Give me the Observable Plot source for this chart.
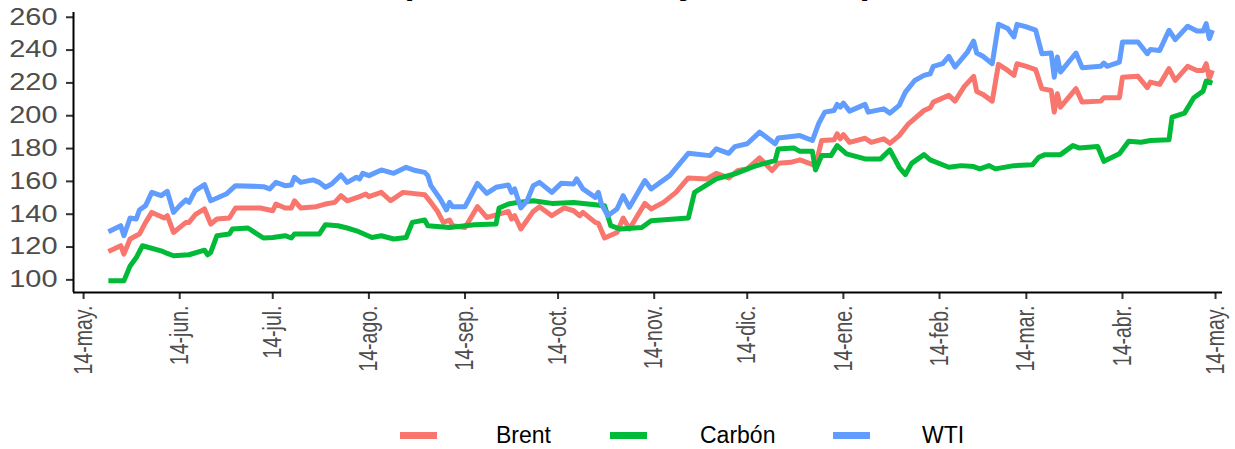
<!DOCTYPE html>
<html><head><meta charset="utf-8">
<script src="https://cdn.jsdelivr.net/npm/d3@7"></script>
<script src="https://cdn.jsdelivr.net/npm/@observablehq/plot@0.6"></script>
<style>
html,body{margin:0;padding:0;background:#fff;overflow:hidden;}
#wrap{position:relative;width:1235px;height:449px;overflow:hidden;}
#title{position:absolute;top:-33px;left:637px;white-space:nowrap;font-family:"Liberation Sans",Arial,sans-serif;font-weight:bold;font-size:32px;line-height:32px;color:#000;transform:translateX(-50%) scaleX(1.12);}
#chart{position:absolute;top:0;left:0;}
#legend{position:absolute;top:400px;left:0;width:1235px;height:49px;font-family:"Liberation Sans",Arial,sans-serif;}
.key{position:absolute;top:32px;width:37px;height:7px;}
.lab{position:absolute;top:23px;font-size:23px;line-height:24px;color:#000;}
</style></head>
<body>
<div id="wrap">
  <div id="chart"></div>
  <div id="title">(Índice 100 = mayo de 2021)</div>
  <div id="legend"></div>
</div>
<script>
const seriesNames = ["Brent", "Carbón", "WTI"];
const seriesColors = ["#F8766D", "#00BA38", "#619CFF"];

const xTickDates = ["2021-05-14","2021-06-14","2021-07-14","2021-08-14","2021-09-14","2021-10-14","2021-11-14","2021-12-14","2022-01-14","2022-02-14","2022-03-14","2022-04-14","2022-05-14"];
const xTickLabels = ["14-may.","14-jun.","14-jul.","14-ago.","14-sep.","14-oct.","14-nov.","14-dic.","14-ene.","14-feb.","14-mar.","14-abr.","14-may."];
const yTicks = [100,120,140,160,180,200,220,240,260];

const wtiDates = ["2021-05-22","2021-05-26","2021-05-27","2021-05-29","2021-05-31","2021-06-01","2021-06-03","2021-06-05","2021-06-08","2021-06-10","2021-06-12","2021-06-14","2021-06-16","2021-06-17","2021-06-19","2021-06-22","2021-06-24","2021-06-29","2021-07-02","2021-07-11","2021-07-13","2021-07-15","2021-07-18","2021-07-20","2021-07-21","2021-07-23","2021-07-27","2021-07-29","2021-07-31","2021-08-02","2021-08-05","2021-08-07","2021-08-10","2021-08-11","2021-08-12","2021-08-14","2021-08-18","2021-08-22","2021-08-26","2021-08-29","2021-09-01","2021-09-02","2021-09-03","2021-09-06","2021-09-08","2021-09-09","2021-09-10","2021-09-14","2021-09-18","2021-09-21","2021-09-24","2021-09-28","2021-09-29","2021-09-30","2021-10-02","2021-10-04","2021-10-06","2021-10-08","2021-10-12","2021-10-15","2021-10-19","2021-10-20","2021-10-22","2021-10-26","2021-10-27","2021-10-28","2021-10-30","2021-11-02","2021-11-04","2021-11-06","2021-11-11","2021-11-13","2021-11-19","2021-11-25","2021-12-02","2021-12-04","2021-12-08","2021-12-10","2021-12-14","2021-12-18","2021-12-23","2021-12-24","2021-12-31","2022-01-04","2022-01-06","2022-01-08","2022-01-11","2022-01-12","2022-01-13","2022-01-14","2022-01-16","2022-01-21","2022-01-22","2022-01-27","2022-01-29","2022-02-01","2022-02-03","2022-02-06","2022-02-09","2022-02-11","2022-02-12","2022-02-15","2022-02-17","2022-02-19","2022-02-23","2022-02-25","2022-02-26","2022-02-28","2022-03-03","2022-03-05","2022-03-08","2022-03-10","2022-03-11","2022-03-14","2022-03-17","2022-03-19","2022-03-22","2022-03-23","2022-03-24","2022-03-25","2022-03-30","2022-04-01","2022-04-07","2022-04-08","2022-04-09","2022-04-13","2022-04-14","2022-04-19","2022-04-22","2022-04-23","2022-04-26","2022-04-29","2022-05-01","2022-05-05","2022-05-08","2022-05-10","2022-05-11","2022-05-12","2022-05-13"];
const wtiValues = [129.3,133.0,126.9,137.7,137.1,142.6,145.2,153.3,151.3,153.9,141.1,145.2,148.7,147.2,154.4,158.0,148.2,152.3,157.4,156.8,155.4,159.4,157.4,157.8,162.5,159.4,160.9,159.4,156.4,158.4,163.9,159.4,162.5,161.5,164.9,163.5,167.0,164.9,168.6,166.6,165.5,163.5,157.4,149.3,142.6,147.2,144.6,144.6,158.8,152.7,156.4,157.8,153.3,155.4,143.8,148.2,157.4,159.4,153.3,158.8,158.4,161.5,155.4,150.3,153.3,146.2,139.1,143.2,151.3,144.2,160.5,155.4,163.5,177.1,175.7,179.8,177.1,181.2,182.9,190.0,182.9,186.5,187.9,184.9,195.1,202.2,203.2,206.9,205.2,207.7,202.8,206.9,202.2,204.2,201.6,206.3,214.4,221.5,224.6,225.6,230.1,231.7,236.2,229.7,238.8,245.5,238.2,236.2,231.7,255.7,253.1,248.0,255.7,254.1,252.1,237.8,238.2,223.5,235.8,226.6,238.2,229.3,230.1,232.1,230.1,232.7,244.9,244.9,237.8,240.3,239.8,252.1,246.4,254.5,251.6,251.6,256.1,247.0,252.1];

const brentDates = ["2021-05-22","2021-05-26","2021-05-27","2021-05-29","2021-06-01","2021-06-03","2021-06-05","2021-06-09","2021-06-10","2021-06-12","2021-06-16","2021-06-17","2021-06-19","2021-06-22","2021-06-24","2021-06-26","2021-06-30","2021-07-02","2021-07-10","2021-07-14","2021-07-15","2021-07-18","2021-07-20","2021-07-21","2021-07-23","2021-07-28","2021-07-31","2021-08-03","2021-08-05","2021-08-07","2021-08-11","2021-08-13","2021-08-14","2021-08-18","2021-08-21","2021-08-25","2021-09-01","2021-09-03","2021-09-05","2021-09-07","2021-09-09","2021-09-10","2021-09-14","2021-09-18","2021-09-21","2021-09-25","2021-09-28","2021-09-29","2021-09-30","2021-10-02","2021-10-06","2021-10-08","2021-10-12","2021-10-16","2021-10-19","2021-10-21","2021-10-22","2021-10-26","2021-10-27","2021-10-29","2021-11-02","2021-11-04","2021-11-06","2021-11-11","2021-11-13","2021-11-17","2021-11-21","2021-11-25","2021-12-01","2021-12-04","2021-12-08","2021-12-11","2021-12-14","2021-12-18","2021-12-22","2021-12-24","2021-12-28","2021-12-31","2022-01-05","2022-01-07","2022-01-11","2022-01-12","2022-01-13","2022-01-14","2022-01-16","2022-01-21","2022-01-23","2022-01-27","2022-01-29","2022-02-01","2022-02-04","2022-02-09","2022-02-11","2022-02-12","2022-02-17","2022-02-19","2022-02-22","2022-02-25","2022-02-26","2022-02-28","2022-03-03","2022-03-05","2022-03-08","2022-03-10","2022-03-11","2022-03-14","2022-03-17","2022-03-19","2022-03-22","2022-03-23","2022-03-24","2022-03-25","2022-03-30","2022-04-01","2022-04-07","2022-04-08","2022-04-13","2022-04-14","2022-04-19","2022-04-22","2022-04-23","2022-04-26","2022-04-29","2022-05-01","2022-05-05","2022-05-08","2022-05-10","2022-05-11","2022-05-12","2022-05-13"];
const brentValues = [117.3,120.8,115.7,124.9,127.9,135.0,141.1,137.7,139.1,128.9,135.0,135.0,139.7,143.2,134.0,137.1,137.7,143.8,143.8,142.1,146.2,143.8,143.8,148.2,143.8,144.6,146.2,147.2,151.3,148.2,150.7,152.3,150.7,153.3,148.2,153.3,151.9,147.2,142.1,135.0,136.5,133.0,131.9,144.6,138.0,140.1,141.7,137.1,139.1,131.0,141.7,144.6,139.1,143.8,142.1,139.1,141.1,135.0,134.4,125.5,128.9,137.7,131.0,146.6,143.2,147.2,153.3,162.1,161.5,164.9,162.1,166.6,167.6,174.3,166.6,171.0,171.6,173.1,169.6,184.9,185.3,189.0,185.9,188.5,183.8,186.3,183.8,185.9,183.2,187.9,195.1,203.2,204.9,208.3,212.4,208.9,217.9,224.0,214.8,213.0,208.9,231.3,227.6,224.6,231.7,230.1,228.1,216.5,215.4,202.2,213.4,205.2,216.5,208.3,208.9,211.0,211.0,223.5,224.0,217.1,220.5,219.1,228.7,221.5,230.1,227.6,227.6,231.7,222.6,227.6];

const carbonDates = ["2021-05-22","2021-05-27","2021-05-29","2021-05-31","2021-06-02","2021-06-08","2021-06-10","2021-06-12","2021-06-17","2021-06-22","2021-06-23","2021-06-24","2021-06-26","2021-06-30","2021-07-01","2021-07-06","2021-07-11","2021-07-14","2021-07-18","2021-07-20","2021-07-21","2021-07-29","2021-07-31","2021-08-04","2021-08-07","2021-08-10","2021-08-15","2021-08-18","2021-08-22","2021-08-26","2021-08-28","2021-09-01","2021-09-02","2021-09-09","2021-09-17","2021-09-24","2021-09-25","2021-09-28","2021-10-01","2021-10-06","2021-10-12","2021-10-19","2021-10-29","2021-10-31","2021-11-03","2021-11-10","2021-11-13","2021-11-25","2021-11-27","2021-11-30","2021-12-04","2021-12-10","2021-12-16","2021-12-19","2021-12-23","2021-12-24","2021-12-29","2021-12-31","2022-01-04","2022-01-05","2022-01-07","2022-01-10","2022-01-12","2022-01-15","2022-01-21","2022-01-26","2022-01-29","2022-02-01","2022-02-03","2022-02-05","2022-02-09","2022-02-11","2022-02-17","2022-02-21","2022-02-25","2022-02-27","2022-03-02","2022-03-04","2022-03-10","2022-03-16","2022-03-18","2022-03-20","2022-03-25","2022-03-29","2022-03-31","2022-04-06","2022-04-08","2022-04-13","2022-04-16","2022-04-20","2022-04-23","2022-04-29","2022-04-30","2022-05-04","2022-05-07","2022-05-10","2022-05-11","2022-05-13"];
const carbonValues = [99.4,99.4,108.5,113.6,120.8,117.7,116.1,114.7,115.3,118.1,115.3,116.7,126.9,127.9,131.0,131.6,125.5,125.8,126.9,125.5,127.9,127.9,133.6,133.0,131.6,129.9,125.8,126.9,124.9,125.8,135.0,136.5,133.0,131.9,133.6,134.0,143.8,146.2,147.2,148.2,146.6,147.2,145.2,133.0,131.0,131.9,136.0,137.7,153.3,156.8,161.5,164.6,169.0,170.7,172.7,179.8,180.4,178.3,178.3,167.0,175.7,175.7,181.8,176.8,173.7,173.7,179.2,168.6,164.1,171.0,176.3,173.1,168.6,169.6,169.0,167.6,169.6,167.6,169.6,170.2,174.7,176.3,176.3,181.8,180.4,181.2,172.2,176.8,184.5,183.8,184.9,185.3,199.1,201.6,211.0,215.0,221.1,219.9];

const parse = d3.utcParse("%Y-%m-%d");
const table = [];
const add = (name, dates, values) => dates.forEach((d, i) => table.push({series: name, date: parse(d), value: values[i]}));
add("Brent", brentDates, brentValues);
add("Carbón", carbonDates, carbonValues);
add("WTI", wtiDates, wtiValues);

const xDomain = [new Date(Date.UTC(2021, 4, 10, 18)), new Date(Date.UTC(2022, 4, 16, 6))];
const yDomain = [92.3, 262.9];
const xTicks = xTickDates.map(parse);
const labelOf = new Map(xTicks.map((d, i) => [+d, xTickLabels[i]]));

const chart = Plot.plot({
  width: 1235,
  height: 400,
  marginLeft: 73,
  marginRight: 13,
  marginTop: 12,
  marginBottom: 108,
  style: {fontFamily: "'Liberation Sans', Arial, sans-serif", background: "#fff"},
  x: {type: "utc", domain: xDomain},
  y: {domain: yDomain},
  color: {domain: seriesNames, range: seriesColors},
  marks: [
    Plot.axisY({ticks: yTicks, tickSize: 7, tickPadding: 9, fontSize: 23, stroke: "#333", strokeWidth: 2, fill: "#4D4D4D", label: null, tickFormat: d => String(d)}),
    Plot.axisX({ticks: xTicks, tickSize: 7, tickPadding: 6, tickRotate: -90, fontSize: 19.5, stroke: "#333", strokeWidth: 2, fill: "#4D4D4D", label: null, tickFormat: d => labelOf.get(+d)}),
    Plot.ruleX([xDomain[0]], {stroke: "#000", strokeWidth: 2}),
    Plot.ruleY([yDomain[0]], {stroke: "#000", strokeWidth: 2}),
    Plot.line(table, {x: "date", y: "value", stroke: "series", z: "series", strokeWidth: 5, strokeLinejoin: "round", strokeLinecap: "butt"})
  ]
});

function stretchText(svg, label, sx, sy) {
  svg.querySelectorAll(`g[aria-label="${label}"] text`).forEach(t => {
    const tr = t.getAttribute("transform") || "";
    t.setAttribute("transform", tr + ` scale(${sx},${sy})`);
  });
}
stretchText(chart, "y-axis tick label", 1.26, 1);
stretchText(chart, "x-axis tick label", 1, 1.3);

document.getElementById("chart").appendChild(chart);

const legend = document.getElementById("legend");
const keyLeft = [400, 610, 833];
const labLeft = [496, 700, 922];
seriesNames.forEach((name, i) => {
  const k = document.createElement("div");
  k.className = "key";
  k.style.left = keyLeft[i] + "px";
  k.style.background = seriesColors[i];
  legend.appendChild(k);
  const t = document.createElement("div");
  t.className = "lab";
  t.style.left = labLeft[i] + "px";
  t.textContent = name;
  legend.appendChild(t);
});
</script>
</body></html>
